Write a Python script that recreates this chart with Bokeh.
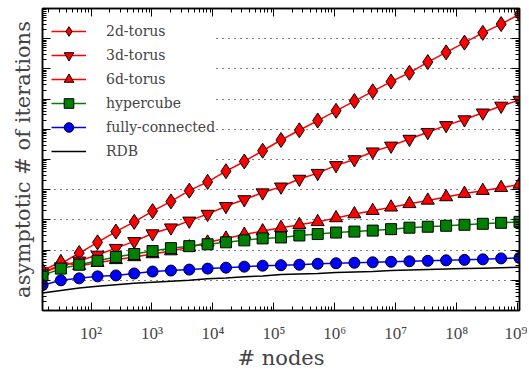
from bokeh.plotting import figure
from bokeh.models import FixedTicker, LogAxis, CustomJSTickFormatter, Legend, LegendItem
from bokeh.embed import file_html
from bokeh.resources import INLINE

# ---- data ----
nodes = [16, 32, 64, 128, 256, 512, 1024, 2048, 4096, 8192, 16384, 32768,
         65536, 131072, 262144, 524288, 1048576, 2097152, 4194304, 8388608,
         16777216, 33554432, 67108864, 134217728, 268435456, 536870912, 1073741824]

torus2d = [15.6, 35.3, 80, 181, 410, 861, 1950, 4100, 9290, 1.81e4, 4.1e4, 8.61e4,
           1.95e5, 4.42e5, 9.29e5, 1.95e6, 4.1e6, 8.61e6, 1.81e7, 3.81e7, 7.43e7,
           1.68e8, 3.53e8, 7.43e8, 1.56e9, 3.05e9, 6.4e9]
torus3d = [19.5, 28.3, 44.2, 69.0, 116, 195, 353, 552, 929, 1560, 2830, 4750,
           8000, 1.25e4, 2.26e4, 3.53e4, 6.4e4, 1.0e5, 1.81e5, 2.83e5, 4.75e5,
           8.0e5, 1.35e6, 2.1e6, 3.53e6, 5.94e6, 9.29e6]
torus6d = [21.0, 41.0, 30.5, 38.1, 47.5, 59.4, 74.3, 92.9, 125, 181, 244, 328,
           426, 552, 690, 861, 1160, 1560, 2020, 2620, 3400, 4420, 5730, 7430,
           9290, 1.16e4, 1.50e4]
hypercube = [14.5, 24.4, 32.8, 44.2, 59.4, 74.3, 92.9, 116, 135, 156, 181, 210,
             244, 262, 305, 340, 381, 410, 442, 494, 552, 594, 640, 690, 743, 800, 861]
fully_connected = [6.90, 10.0, 11.6, 13.5, 14.5, 16.8, 19.5, 21.0, 22.6, 24.4, 26.2,
                   28.3, 30.5, 31.6, 32.8, 35.3, 36.7, 38.1, 39.5, 41.0, 42.6, 44.2,
                   45.8, 47.5, 49.4, 53.2, 55.2]
rdb = [3.81, 4.58, 5.52, 6.40, 7.16, 8.0, 8.61, 9.29, 10.0, 11.2, 12.0, 13.0, 14.0,
       15.6, 16.2, 16.8, 18.1, 18.8, 19.5, 21.0, 21.8, 22.6, 23.5, 24.4, 25.3, 26.2, 27.2]

series_names = ["2d-torus", "3d-torus", "6d-torus", "hypercube", "fully-connected", "RDB"]

x_major = [10 ** k for k in range(1, 10)]
x_minor = [m * 10 ** k for k in range(1, 9) for m in range(2, 10)]
y_major = [10 ** k for k in range(0, 11)]
y_minor = [m * 10 ** k for k in range(0, 10) for m in range(2, 10)]

TXT = "DejaVu Serif"
NUM = "Liberation Serif"

p = figure(width=527, height=372, x_axis_type="log", y_axis_type="log",
           x_range=(16, 2 ** 30), y_range=(1, 1e10),
           output_backend="svg", toolbar_location=None,
           min_border_left=42, min_border_right=8, min_border_top=8, min_border_bottom=55)

p.outline_line_color = "black"
p.outline_line_width = 1.5
p.background_fill_color = "white"

sup_code = """
const sup = {'0':'\u2070','1':'\u00b9','2':'\u00b2','3':'\u00b3','4':'\u2074','5':'\u2075','6':'\u2076','7':'\u2077','8':'\u2078','9':'\u2079','-':'\u207b'};
const e = Math.round(Math.log10(tick));
return '10' + String(e).split('').map(c => sup[c]).join('');
"""
blank_code = "return '';"

def style_axis(ax):
    ax.axis_line_color = "black"
    ax.axis_line_width = 1.5
    ax.major_tick_in = 8
    ax.major_tick_out = 0
    ax.minor_tick_in = 4
    ax.minor_tick_out = 0
    ax.major_tick_line_color = "black"
    ax.minor_tick_line_color = "black"
    ax.major_tick_line_width = 1
    ax.minor_tick_line_width = 1

xa = p.xaxis[0]
xa.ticker = FixedTicker(ticks=x_major, minor_ticks=x_minor)
xa.formatter = CustomJSTickFormatter(code=sup_code)
xa.major_label_text_font = NUM
xa.major_label_text_font_size = "17px"
xa.major_label_standoff = 13
xa.axis_label = "# nodes"
xa.axis_label_text_font = TXT
xa.axis_label_text_font_size = "21px"
xa.axis_label_text_font_style = "normal"
xa.axis_label_standoff = 0
style_axis(xa)

ya = p.yaxis[0]
ya.ticker = FixedTicker(ticks=y_major, minor_ticks=y_minor)
ya.formatter = CustomJSTickFormatter(code=blank_code)
ya.major_label_text_font_size = "2px"
ya.major_label_standoff = 0
ya.axis_label = "asymptotic # of iterations"
ya.axis_label_text_font = TXT
ya.axis_label_text_font_size = "21px"
ya.axis_label_text_font_style = "normal"
ya.axis_label_standoff = 8
style_axis(ya)

top = LogAxis(ticker=FixedTicker(ticks=x_major, minor_ticks=x_minor),
              formatter=CustomJSTickFormatter(code=blank_code),
              major_label_text_font_size="2px", major_label_standoff=0)
style_axis(top)
p.add_layout(top, "above")
right = LogAxis(ticker=FixedTicker(ticks=y_major, minor_ticks=y_minor),
                formatter=CustomJSTickFormatter(code=blank_code),
                major_label_text_font_size="2px", major_label_standoff=0)
style_axis(right)
p.add_layout(right, "right")

p.xgrid.visible = False
p.ygrid.grid_line_color = "black"
p.ygrid.grid_line_dash = "1 5"
p.ygrid.grid_line_width = 1

specs = [
    (torus2d, "#ff0000", "diamond", 15),
    (torus3d, "#ff0000", "inverted_triangle", 13),
    (torus6d, "#ff0000", "triangle", 13),
    (hypercube, "#008000", "square", 11),
    (fully_connected, "#0000ff", "circle", 11),
]

items = []
for (vals, col, mk, sz), name in zip(specs, series_names):
    ln = p.line(nodes, vals, line_color=col, line_width=1.5)
    sc = p.scatter(nodes, vals, marker=mk, size=sz, fill_color=col,
                   line_color="black", line_width=1)
    items.append(LegendItem(label=name, renderers=[ln, sc]))

rl = p.line(nodes, rdb, line_color="black", line_width=1.5)
items.append(LegendItem(label=series_names[5], renderers=[rl]))

legend = Legend(items=items, location=(9, 147), margin=0, padding=7,
                glyph_width=35, glyph_height=24, label_height=20, spacing=0,
                label_standoff=20, label_text_font=TXT, label_text_font_size="14px",
                background_fill_color="white", background_fill_alpha=1.0,
                border_line_color=None)
p.add_layout(legend, "center")

open("out.html", "w").write(file_html(p, INLINE))
